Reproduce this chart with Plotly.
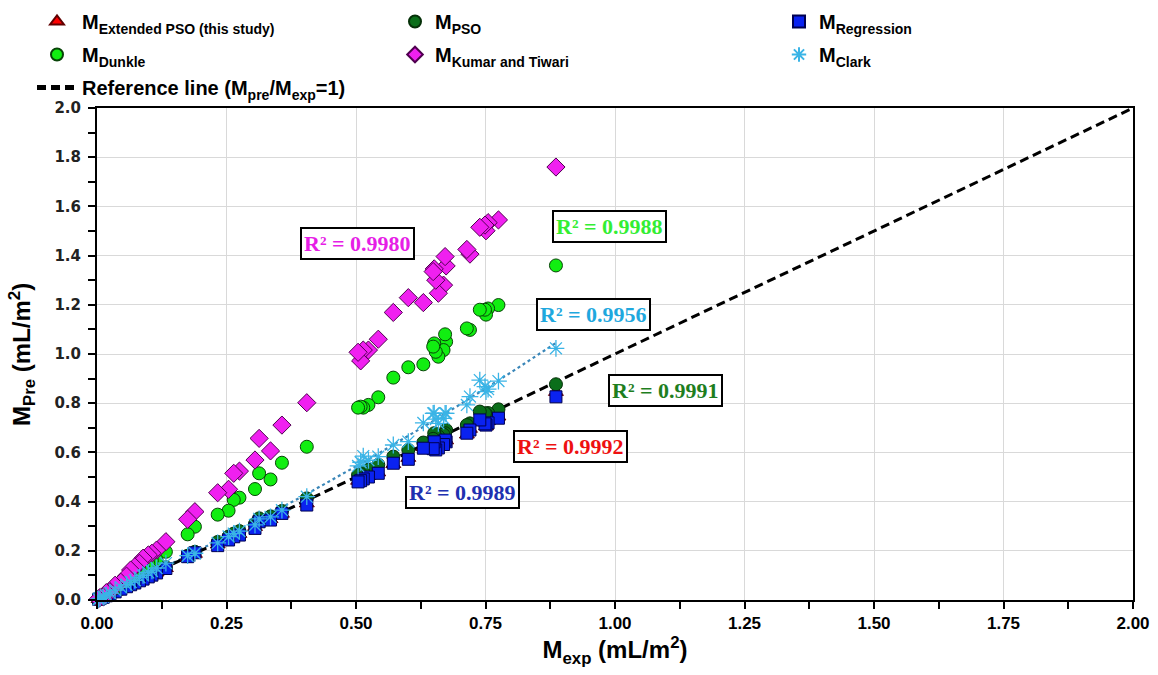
import numpy as np
import plotly.graph_objects as go

# Experimental values (shared x for every model)
m_exp = [0.886, 0.775, 0.755, 0.751, 0.749, 0.739, 0.720, 0.714, 0.674, 0.672, 0.669, 0.659,
         0.654, 0.651, 0.649, 0.630, 0.601, 0.572, 0.543, 0.524, 0.514, 0.509, 0.504,
         0.405, 0.357, 0.335, 0.313, 0.305, 0.275, 0.264, 0.254, 0.233, 0.189, 0.175,
         0.133, 0.115, 0.106, 0.099, 0.089, 0.082, 0.073, 0.065, 0.057, 0.046, 0.035,
         0.025, 0.018, 0.012, 0.006, 0.003]

m_kumar = [1.760, 1.545, 1.534, 1.501, 1.524, 1.515, 1.406, 1.425, 1.358, 1.396, 1.280, 1.247,
           1.300, 1.346, 1.335, 1.209, 1.229, 1.169, 1.060, 1.016, 1.016, 0.972, 1.007,
           0.802, 0.711, 0.606, 0.657, 0.569, 0.524, 0.515, 0.450, 0.436, 0.359, 0.328,
           0.237, 0.203, 0.190, 0.183, 0.170, 0.149, 0.135, 0.122, 0.097, 0.072, 0.060,
           0.034, 0.030, 0.013, 0.010, 0.005]

m_dunkle = [1.360, 1.199, 1.185, 1.160, 1.180, 1.180, 1.098, 1.104, 1.050, 1.080, 1.016, 0.989,
            1.009, 1.043, 1.030, 0.958, 0.946, 0.904, 0.824, 0.793, 0.782, 0.786, 0.782,
            0.623, 0.558, 0.490, 0.515, 0.451, 0.416, 0.407, 0.363, 0.347, 0.298, 0.267,
            0.196, 0.163, 0.160, 0.149, 0.129, 0.122, 0.102, 0.095, 0.080, 0.068, 0.048,
            0.036, 0.026, 0.016, 0.009, 0.004]

m_clark = [1.023, 0.890, 0.857, 0.847, 0.867, 0.894, 0.827, 0.793, 0.759, 0.759, 0.738, 0.718,
           0.735, 0.760, 0.759, 0.720, 0.644, 0.630, 0.583, 0.568, 0.585, 0.560, 0.545,
           0.420, 0.365, 0.338, 0.330, 0.305, 0.280, 0.270, 0.258, 0.232, 0.190, 0.180,
           0.150, 0.130, 0.118, 0.112, 0.100, 0.092, 0.080, 0.073, 0.062, 0.052, 0.040,
           0.028, 0.020, 0.013, 0.007, 0.003]

m_pso = [0.877, 0.775, 0.760, 0.755, 0.759, 0.766, 0.718, 0.711, 0.691, 0.678, 0.672, 0.665,
         0.662, 0.678, 0.655, 0.640, 0.610, 0.583, 0.550, 0.530, 0.520, 0.512, 0.508,
         0.413, 0.362, 0.340, 0.332, 0.310, 0.280, 0.270, 0.258, 0.236, 0.196, 0.180,
         0.133, 0.115, 0.106, 0.099, 0.089, 0.082, 0.073, 0.066, 0.057, 0.046, 0.035,
         0.025, 0.018, 0.012, 0.006, 0.003]

m_ext_pso = [0.845, 0.745, 0.726, 0.705, 0.721, 0.736, 0.695, 0.672, 0.648, 0.654, 0.636, 0.622,
             0.615, 0.647, 0.620, 0.621, 0.577, 0.552, 0.518, 0.503, 0.496, 0.488, 0.484,
             0.392, 0.350, 0.328, 0.320, 0.296, 0.268, 0.259, 0.247, 0.225, 0.187, 0.172,
             0.129, 0.111, 0.102, 0.095, 0.086, 0.079, 0.070, 0.063, 0.055, 0.044, 0.034,
             0.024, 0.017, 0.011, 0.006, 0.003]

m_regression = [0.826, 0.739, 0.720, 0.711, 0.716, 0.732, 0.691, 0.678, 0.643, 0.650, 0.632, 0.618,
                0.610, 0.643, 0.615, 0.617, 0.572, 0.556, 0.515, 0.500, 0.492, 0.485, 0.480,
                0.386, 0.352, 0.325, 0.318, 0.291, 0.264, 0.257, 0.244, 0.221, 0.192, 0.176,
                0.128, 0.110, 0.101, 0.094, 0.085, 0.078, 0.069, 0.062, 0.054, 0.044, 0.033,
                0.024, 0.017, 0.011, 0.006, 0.003]

ref_x = [0.0, 2.0]
ref_y = [0.0, 2.0]

r2_labels = ["R² = 0.9980", "R² = 0.9988", "R² = 0.9956", "R² = 0.9991", "R² = 0.9992", "R² = 0.9989"]
r2_x = [0.502, 0.990, 0.958, 1.098, 0.915, 0.705]
r2_y = [1.451, 1.520, 1.159, 0.850, 0.626, 0.439]
r2_colors = ["#e61ee6", "#33ee33", "#1fa8de", "#1e7e1e", "#ee1111", "#2030b0"]

SANS = "Liberation Sans, Arial, sans-serif"
SERIF = "Liberation Serif, Times New Roman, serif"

fig = go.Figure()

# Clark quadratic trendline (fitted from the Clark points)
coef = np.polyfit(m_exp, m_clark, 2)
tx = np.linspace(0, max(m_exp), 60)
fig.add_trace(go.Scatter(x=tx, y=np.polyval(coef, tx), mode="lines",
                         line=dict(color="#3a86b8", width=2.2, dash="dot"),
                         showlegend=False, hoverinfo="skip"))

fig.add_trace(go.Scatter(x=ref_x, y=ref_y, mode="lines", name="<b>Reference line (M<sub>pre</sub>/M<sub>exp</sub>=1)</b>",
                         line=dict(color="black", width=3, dash="9px,5px"),
                         legend="legend", legendgroup="ref", legendrank=3))

common = dict(mode="markers", cliponaxis=False)
fig.add_trace(go.Scatter(x=m_exp, y=m_ext_pso, name="<b>M<sub>Extended PSO (this study)</sub></b>",
                         marker=dict(symbol="triangle-up", size=13, color="#ff0000",
                                     line=dict(color="#600000", width=1)),
                         legend="legend", legendgroup="ext", legendrank=1, **common))
fig.add_trace(go.Scatter(x=m_exp, y=m_pso, name="<b>M<sub>PSO</sub></b>",
                         marker=dict(symbol="circle", size=13, color="#0b6e1a",
                                     line=dict(color="#053008", width=1)),
                         legend="legend2", legendgroup="pso", legendrank=1, **common))
fig.add_trace(go.Scatter(x=m_exp, y=m_regression, name="<b>M<sub>Regression</sub></b>",
                         marker=dict(symbol="square", size=12, color="#0a22f0",
                                     line=dict(color="#000050", width=1)),
                         legend="legend3", legendgroup="reg", legendrank=1, **common))
fig.add_trace(go.Scatter(x=m_exp, y=m_dunkle, name="<b>M<sub>Dunkle</sub></b>",
                         marker=dict(symbol="circle", size=13, color="#11ee11",
                                     line=dict(color="#084408", width=1)),
                         legend="legend", legendgroup="dun", legendrank=2, **common))
fig.add_trace(go.Scatter(x=m_exp, y=m_kumar, name="<b>M<sub>Kumar and Tiwari</sub></b>",
                         marker=dict(symbol="diamond", size=14, color="#f020f0",
                                     line=dict(color="#500050", width=1)),
                         legend="legend2", legendgroup="kum", legendrank=2, **common))
fig.add_trace(go.Scatter(x=m_exp, y=m_clark, name="<b>M<sub>Clark</sub></b>",
                         marker=dict(symbol="asterisk-open", size=14, color="#3ab4e6",
                                     line=dict(color="#3ab4e6", width=1.3)),
                         legend="legend3", legendgroup="cla", legendrank=2, **common))

for t, x, y, c in zip(r2_labels, r2_x, r2_y, r2_colors):
    fig.add_annotation(x=x, y=y, text=f"<b>{t}</b>", showarrow=False,
                       font=dict(family=SERIF, size=22, color=c),
                       bgcolor="white", bordercolor="black", borderwidth=2, borderpad=2)

# y-axis title
fig.add_annotation(xref="paper", yref="paper", x=-0.0725, y=0.5, textangle=-90,
                   xanchor="center", yanchor="middle",
                   text="<b>M<sub>Pre</sub> (mL/m<sup>2</sup>)</b>", showarrow=False,
                   font=dict(family=SANS, size=24, color="black"))

leg_common = dict(xref="container", yref="container", yanchor="top", xanchor="left",
                  font=dict(family=SANS, size=20, color="black"), bgcolor="rgba(0,0,0,0)",
                  tracegroupgap=4, orientation="v", itemsizing="constant")
fig.update_layout(
    legend=dict(x=32 / 1158, y=1 - 2 / 675, itemwidth=40, **leg_common),
    legend2=dict(x=395 / 1158, y=1 - 2 / 675, **leg_common),
    legend3=dict(x=779 / 1158, y=1 - 2 / 675, **leg_common),
)

axis_common = dict(range=[0, 2], showline=True, linecolor="black", linewidth=2, mirror=True,
                   showgrid=True, gridcolor="#d9d9d9", gridwidth=1, zeroline=False,
                   ticks="outside", ticklen=7, tickwidth=1.5, tickcolor="black")
fig.update_xaxes(dtick=0.25, tick0=0, tickformat=".2f", tickangle=0,
                 minor=dict(dtick=0.125, ticks="outside", ticklen=7, tickcolor="black", showgrid=False),
                 tickfont=dict(family=SANS, size=17, color="black", weight="bold"),
                 title=dict(text="<b>M<sub>exp</sub> (mL/m<sup>2</sup>)</b>",
                            font=dict(family=SANS, size=24, color="black"), standoff=9),
                 **axis_common)
fig.update_yaxes(dtick=0.2, tick0=0, tickformat=".1f", ticklabelstandoff=4,
                 minor=dict(dtick=0.1, ticks="outside", ticklen=7, tickcolor="black", showgrid=False),
                 tickfont=dict(family="DejaVu Sans, sans-serif", size=15, color="#222222", weight="bold"),
                 **axis_common)

fig.update_layout(width=1158, height=675,
                  margin=dict(l=97, r=25, t=108, b=75, autoexpand=False),
                  plot_bgcolor="white", paper_bgcolor="white", showlegend=True)

fig.write_html("out.html")
